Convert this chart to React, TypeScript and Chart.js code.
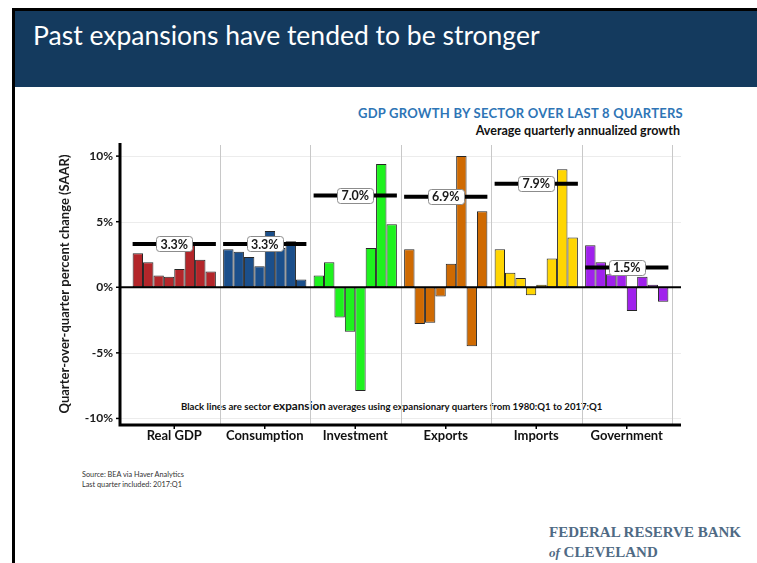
import React, { useEffect, useRef } from 'react';
import { Chart, registerables } from 'chart.js';

Chart.register(...registerables);

const sectors = ['Real GDP', 'Consumption', 'Investment', 'Exports', 'Imports', 'Government'];
const quarters = ['2015:Q2', '2015:Q3', '2015:Q4', '2016:Q1', '2016:Q2', '2016:Q3', '2016:Q4', '2017:Q1'];

const realGdp = [2.6, 1.9, 0.9, 0.8, 1.4, 3.4, 2.1, 1.2];
const consumption = [2.9, 2.7, 2.3, 1.6, 4.3, 3.0, 3.5, 0.6];
const investment = [0.9, 1.9, -2.3, -3.4, -7.9, 3.0, 9.4, 4.8];
const exportsGrowth = [2.9, -2.8, -2.7, -0.7, 1.8, 10.0, -4.5, 5.8];
const importsGrowth = [2.9, 1.1, 0.7, -0.6, 0.2, 2.2, 9.0, 3.8];
const government = [3.2, 1.9, 1.0, 1.0, -1.8, 0.8, 0.2, -1.1];

const expansionAvg = [3.3, 3.3, 7.0, 6.9, 7.9, 1.5];

const yTickValues = [-10, -5, 0, 5, 10];

const sectorColors = ['#B3262A', '#1B4F8B', '#1EF21E', '#CF6A02', '#FFD602', '#A021EC'];

const FONT = 'Lato, "Open Sans", sans-serif';

export default function App() {
  const ref = useRef<HTMLCanvasElement>(null);

  useEffect(() => {
    const canvas = ref.current;
    if (!canvas) return;
    document.body.style.margin = '0';
    const series = [realGdp, consumption, investment, exportsGrowth, importsGrowth, government];
    const CAT_PCT = 0.92;
    const datasets = quarters.map((q, qi) => ({
      label: q,
      data: series.map((s) => s[qi]),
      backgroundColor: sectorColors,
      borderColor: '#262626',
      borderWidth: 1,
      borderSkipped: false as const,
      categoryPercentage: CAT_PCT,
      barPercentage: 1,
    }));

    const overlay = {
      id: 'overlay',
      beforeDatasetsDraw(chart: any) {
        const { ctx, chartArea: a, scales } = chart;
        const x = scales.x;
        const y = scales.y;
        const axisLeft = a.left - 9;
        const axisRight = a.right + 9;
        const step = x.getPixelForValue(1) - x.getPixelForValue(0);
        ctx.save();
        ctx.strokeStyle = '#ececec';
        ctx.lineWidth = 1;
        for (const v of yTickValues) {
          const py = Math.round(y.getPixelForValue(v)) + 0.5;
          ctx.beginPath();
          ctx.moveTo(axisLeft, py);
          ctx.lineTo(axisRight, py);
          ctx.stroke();
        }
        ctx.strokeStyle = '#c8c8c8';
        for (let i = 0; i < sectors.length; i++) {
          const px = Math.round(x.getPixelForValue(i) + step / 2) + 0.5;
          ctx.beginPath();
          ctx.moveTo(px, a.top + 2);
          ctx.lineTo(px, a.bottom);
          ctx.stroke();
        }
        ctx.restore();
      },
      afterDatasetsDraw(chart: any) {
        const { ctx, chartArea: a, scales } = chart;
        const x = scales.x;
        const y = scales.y;
        const axisLeft = a.left - 9;
        const axisRight = a.right + 9;
        const step = x.getPixelForValue(1) - x.getPixelForValue(0);
        ctx.save();
        const y0 = y.getPixelForValue(0);
        ctx.strokeStyle = '#000';
        ctx.lineWidth = 2;
        ctx.beginPath();
        ctx.moveTo(axisLeft, y0);
        ctx.lineTo(axisRight, y0);
        ctx.stroke();
        ctx.lineWidth = 3;
        ctx.beginPath();
        ctx.moveTo(axisLeft, a.top);
        ctx.lineTo(axisLeft, a.bottom + 1.5);
        ctx.moveTo(axisLeft - 1.5, a.bottom);
        ctx.lineTo(axisRight, a.bottom);
        ctx.stroke();
        ctx.lineWidth = 1.5;
        for (const v of yTickValues) {
          const py = y.getPixelForValue(v);
          ctx.beginPath();
          ctx.moveTo(axisLeft - 4, py);
          ctx.lineTo(axisLeft, py);
          ctx.stroke();
        }
        for (let i = 0; i < sectors.length; i++) {
          const px = x.getPixelForValue(i);
          ctx.beginPath();
          ctx.moveTo(px, a.bottom);
          ctx.lineTo(px, a.bottom + 4);
          ctx.stroke();
        }
        for (let i = 0; i < sectors.length; i++) {
          const cx = x.getPixelForValue(i);
          const half = (step * CAT_PCT) / 2;
          const py = y.getPixelForValue(expansionAvg[i]);
          ctx.strokeStyle = '#000';
          ctx.lineWidth = 4;
          ctx.beginPath();
          ctx.moveTo(cx - half, py);
          ctx.lineTo(cx + half, py);
          ctx.stroke();
          const text = expansionAvg[i].toFixed(1) + '%';
          ctx.font = 'bold 12.5px ' + FONT;
          const w = ctx.measureText(text).width + 8;
          const h = 15;
          ctx.beginPath();
          ctx.roundRect(Math.round(cx - w / 2) + 0.5, Math.round(py - h / 2) + 0.5, Math.round(w), h, 3);
          ctx.fillStyle = '#fff';
          ctx.fill();
          ctx.strokeStyle = '#8c8c8c';
          ctx.lineWidth = 1;
          ctx.stroke();
          ctx.fillStyle = '#1a1a1a';
          ctx.textAlign = 'center';
          ctx.textBaseline = 'middle';
          ctx.fillText(text, cx, py + 0.5);
        }
        ctx.restore();
      },
    };

    const chart = new Chart(canvas, {
      type: 'bar',
      data: { labels: sectors, datasets },
      options: {
        animation: false,
        responsive: false,
        devicePixelRatio: 1,
        layout: { padding: { top: 143, right: 85, left: 0, bottom: 0 } },
        plugins: {
          legend: { display: false },
          tooltip: { enabled: false },
          title: { display: false },
        },
        scales: {
          x: {
            type: 'category',
            grid: { display: false, drawTicks: false },
            border: { display: false },
            ticks: {
              padding: 3,
              maxRotation: 0,
              color: '#111',
              font: { family: FONT, size: 13, weight: 'bold' },
            },
            afterFit(scale: any) {
              scale.height = 138;
            },
          },
          y: {
            type: 'linear',
            min: -10.5,
            max: 11,
            grid: { display: false, drawTicks: false },
            border: { display: false },
            ticks: {
              stepSize: 5,
              includeBounds: false,
              padding: 16,
              color: '#1a1a1a',
              font: { family: FONT, size: 12, weight: 'bold' },
              callback: (v: any) => v + '%',
            },
            title: {
              display: true,
              text: 'Quarter-over-quarter percent change (SAAR)',
              color: '#1a1a1a',
              font: { family: FONT, size: 13, weight: 'bold' },
              padding: { top: 57, bottom: 0 },
            },
            afterFit(scale: any) {
              scale.width = 129;
            },
          },
        },
      },
      plugins: [overlay],
    } as any);
    return () => chart.destroy();
  }, []);

  return (
    <div style={{ position: 'absolute', left: 0, top: 0, width: 757, height: 563, background: '#fff', overflow: 'hidden', fontFamily: FONT }}>
      <div style={{ position: 'absolute', left: 12, top: 8, width: 745, height: 3, background: '#000' }} />
      <div style={{ position: 'absolute', left: 12, top: 8, width: 3, height: 555, background: '#000' }} />
      <div style={{ position: 'absolute', left: 15, top: 11, width: 742, height: 76, background: '#143A5E' }} />
      <div style={{ position: 'absolute', left: 33, top: 18, color: '#fff', fontSize: 26.5, lineHeight: '34px', whiteSpace: 'nowrap' }}>
        Past expansions have tended to be stronger
      </div>
      <div style={{ position: 'absolute', right: 74, top: 105, color: '#2E75B6', fontSize: 13, letterSpacing: '0.25px', fontWeight: 'bold', lineHeight: '17px', whiteSpace: 'nowrap' }}>
        GDP GROWTH BY SECTOR OVER LAST 8 QUARTERS
      </div>
      <div style={{ position: 'absolute', right: 77, top: 123, color: '#111', fontSize: 12.5, fontWeight: 'bold', lineHeight: '16px', whiteSpace: 'nowrap' }}>
        Average quarterly annualized growth
      </div>
      <div style={{ position: 'absolute', left: 181, top: 398, color: '#111', fontSize: 9.6, fontWeight: 'bold', lineHeight: '15px', whiteSpace: 'nowrap' }}>
        Black lines are sector <span style={{ fontSize: 11.7 }}>expansion</span> averages using expansionary quarters from 1980:Q1 to 2017:Q1
      </div>
      <div style={{ position: 'absolute', left: 82, top: 470, color: '#333', fontSize: 7.3, lineHeight: '10px', whiteSpace: 'nowrap' }}>
        Source: BEA via Haver Analytics
        <br />
        Last quarter included: 2017:Q1
      </div>
      <div style={{ position: 'absolute', left: 549, top: 522, color: '#4F6A84', fontFamily: '"Liberation Serif", "DejaVu Serif", serif', fontWeight: 'bold', fontSize: 15, lineHeight: '20px', whiteSpace: 'nowrap' }}>
        FEDERAL RESERVE BANK
        <br />
        <span style={{ fontStyle: 'italic', fontSize: 13 }}>of</span> CLEVELAND
      </div>
      <canvas ref={ref} width={757} height={563} style={{ position: 'absolute', left: 0, top: 0, width: 757, height: 563 }} />
    </div>
  );
}
